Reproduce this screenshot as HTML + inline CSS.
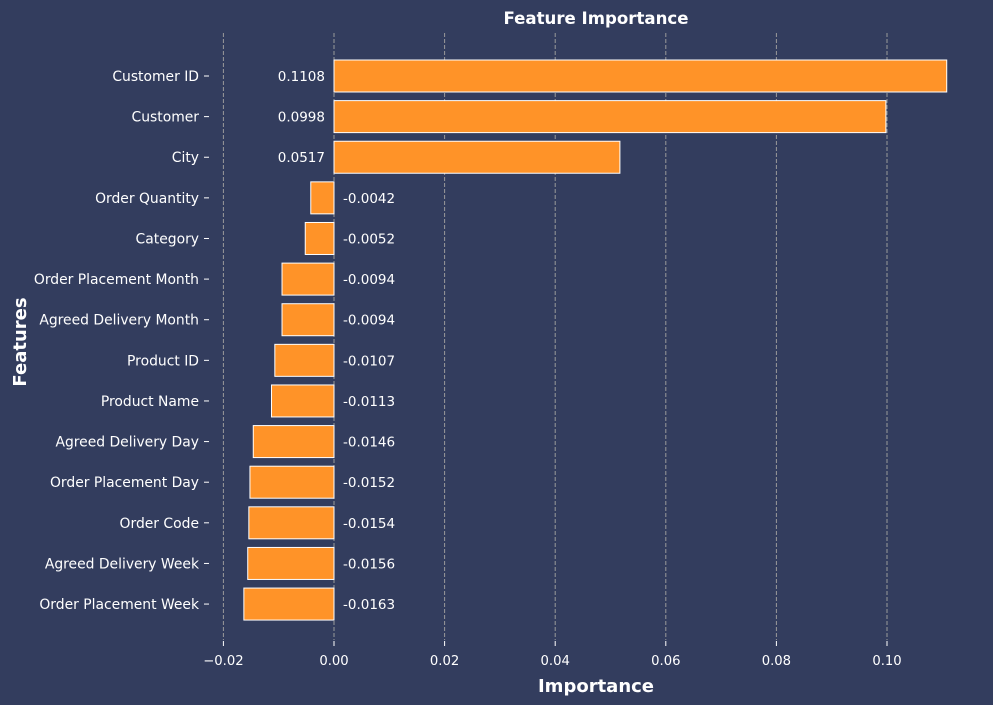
<!DOCTYPE html>
<html><head><meta charset="utf-8"><style>
body{margin:0;background:#333d5e;}
svg{display:block;font-family:"DejaVu Sans","Liberation Sans",sans-serif;}
</style></head><body>
<svg id="chart" width="993" height="705">
<rect width="993" height="705" fill="#333d5e"/>
<text x="596" y="24" fill="#fff" font-size="16.6" font-weight="bold" text-anchor="middle">Feature Importance</text>
<text x="596" y="692" fill="#fff" font-size="18" font-weight="bold" text-anchor="middle">Importance</text>
<text transform="translate(26,342) rotate(-90)" fill="#fff" font-size="18" font-weight="bold" text-anchor="middle">Features</text>
<g id="grid"></g><g id="bars"></g><g id="labels"></g>
</svg>
<script>
const categories=["Customer ID","Customer","City","Order Quantity","Category","Order Placement Month","Agreed Delivery Month","Product ID","Product Name","Agreed Delivery Day","Order Placement Day","Order Code","Agreed Delivery Week","Order Placement Week"];
const values=[0.1108,0.0998,0.0517,-0.0042,-0.0052,-0.0094,-0.0094,-0.0107,-0.0113,-0.0146,-0.0152,-0.0154,-0.0156,-0.0163];
const xTicks=[-0.02,0,0.02,0.04,0.06,0.08,0.10];
const xTickLabels=["\u22120.02","0.00","0.02","0.04","0.06","0.08","0.10"];
const NS="http://www.w3.org/2000/svg";
const x=v=>334+v*5530;
const y=i=>76+i*40.62;
function mk(t,a,p){const e=document.createElementNS(NS,t);for(const k in a)e.setAttribute(k,a[k]);p.appendChild(e);return e;}
const grid=document.getElementById('grid'),bars=document.getElementById('bars'),labels=document.getElementById('labels');
xTicks.forEach((t,i)=>{
 const l=mk('line',{x1:x(t),x2:x(t),y1:33,y2:640,stroke:'#9a9a9a','stroke-dasharray':'4,2','stroke-width':1},grid);
 
 
 const tk=mk('line',{x1:x(t),x2:x(t),y1:641,y2:646,stroke:'#fff'},grid);
 
 
 const tx=mk('text',{x:x(t),y:665,fill:'#fff','font-size':13.2,'text-anchor':'middle'},labels);
 tx.textContent=xTickLabels[i];
 
 
});
categories.forEach((c,i)=>{
 const v=values[i],cy=y(i);
 const r=mk('rect',{x:Math.min(x(0),x(v)),y:cy-16,width:Math.abs(x(v)-x(0)),height:32,fill:'#ff9328',stroke:'#fff','stroke-width':1},bars);
 
 
 const tk=mk('line',{x1:204,x2:209,y1:cy,y2:cy,stroke:'#fff'},labels);
 
 
 const t=mk('text',{x:199,y:cy+5,fill:'#fff','font-size':13.9,'text-anchor':'end'},labels);
 t.textContent=c;
 
 
 const vl=mk('text',{x:v>=0?325:343,y:cy+5,fill:'#fff','font-size':13.5,'text-anchor':v>=0?'end':'start'},labels);
 vl.textContent=v.toFixed(4);
 
 
});
</script>
</body></html>
